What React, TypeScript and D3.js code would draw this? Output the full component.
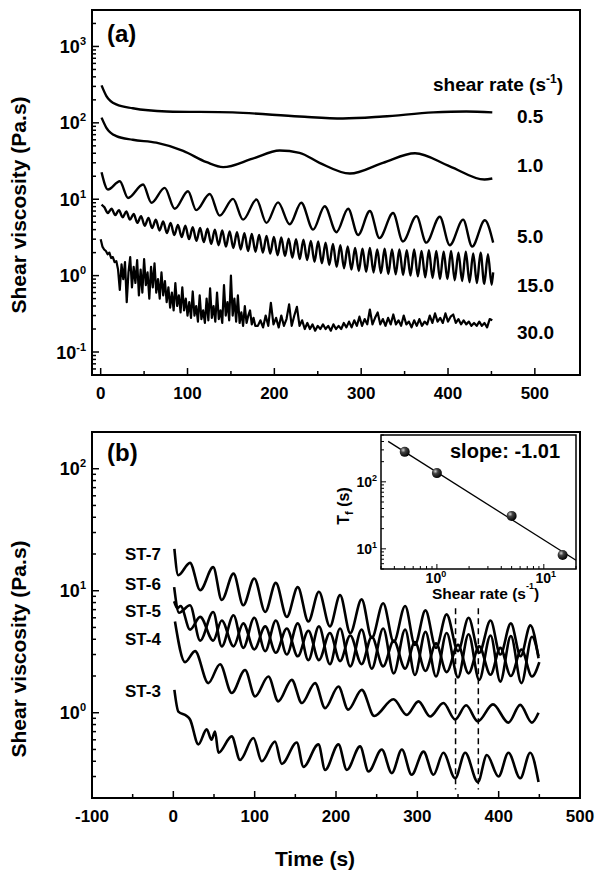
import React from "react";
import * as d3 from "d3";

type P = [number, number];

// ---------- Panel (a): viscosity vs time at several shear rates ----------
const rateLabels = ["0.5", "1.0", "5.0", "15.0", "30.0"];

const rate05: P[] = [[1,309],[6.6,224],[18,174],[37,155],[76,141],[152,137],[229,121],[279,114],[325,121],[383,137],[421,141],[451,137]];

const rate10: P[] = [[1,117],[6.6,86],[18,67],[37,60],[64,55],[95,43],[122,30.5],[141,26.3],[175,34],[206,43.4],[229,40.5],[252,30],[287,21.7],[325,30],[362,40],[402,27],[442,18.1],[451,18.7]];

const rate50: P[] = [[1,22.6],[8.4,13.4],[22,17.2],[31.5,10.4],[48.8,15.6],[58.4,9.0],[73.7,14.1],[85.3,7.5],[100.6,12.7],[110,7.2],[125.6,11.7],[137,6.1],[152.4,10.1],[164,5.4],[179.4,9.9],[190.9,4.9],[204.3,9.1],[217.7,4.7],[231,9.0],[244.6,4.0],[258,8.1],[271.5,3.7],[285,7.5],[296.4,3.4],[310,7.0],[321,3.1],[336.7,6.6],[348,2.8],[363.7,6.0],[375,2.7],[390.5,5.9],[402,2.5],[417.4,5.4],[427.8,2.4],[442.4,5.3],[452,2.7]];

const rate150: P[] = [[1,8.5],[4,7.9],[8.25,6.6],[12.5,7.5],[16.75,6.2],[21,7.2],[25.25,5.8],[29.5,6.9],[33.75,5.4],[38,6.4],[42.25,4.9],[46.5,6.0],[50.75,4.5],[55,5.7],[59.25,4.2],[63.5,5.4],[67.75,3.9],[72,5.1],[76.25,3.6],[80.5,4.9],[84.75,3.4],[89,4.6],[93.25,3.2],[97.5,4.5],[101.75,3.0],[106,4.3],[110.25,2.85],[114.5,4.2],[118.75,2.75],[123,4.1],[127.25,2.6],[131.5,4.0],[135.75,2.5],[140,3.9],[144.25,2.4],[148.5,3.8],[152.75,2.3],[157,3.7],[161.25,2.2],[165.5,3.6],[169.75,2.1],[174,3.5],[178.25,2.05],[182.5,3.4],[186.75,2.0],[191,3.3],[195.25,1.95],[199.5,3.2],[203.75,1.85],[208,3.15],[212.25,1.8],[216.5,3.05],[220.75,1.72],[225,3.0],[229.25,1.65],[233.5,2.95],[237.75,1.6],[242,2.85],[246.25,1.52],[250.5,2.8],[254.75,1.45],[259,2.7],[263.25,1.38],[267.5,2.6],[271.75,1.3],[276,2.5],[280.25,1.25],[284.5,2.4],[288.75,1.2],[293,2.3],[297.25,1.15],[301.5,2.25],[305.75,1.12],[310,2.3],[314.25,1.1],[318.5,2.2],[322.75,1.08],[327,2.25],[331.25,1.05],[335.5,2.2],[339.75,1.04],[344,2.2],[348.25,1.02],[352.5,2.15],[356.75,1.0],[361,2.2],[365.25,0.98],[369.5,2.1],[373.75,0.95],[378,2.15],[382.25,0.93],[386.5,2.1],[390.75,0.9],[395,2.05],[399.25,0.9],[403.5,2.1],[407.75,0.87],[412,2.0],[416.25,0.85],[420.5,2.05],[424.75,0.82],[429,1.95],[433.25,0.8],[437.5,2.0],[441.75,0.78],[446,1.9],[450.25,0.76],[452,1.1]];

const rate300: P[] = [[0,3.0],[2,2.4],[4,2.2],[6,2.1],[8,1.9],[10,2.0],[12,1.7],[14,1.75],[16,1.5],[18,1.55],[20,1.2],[22,0.65],[24,1.4],[26,0.9],[28,1.5],[30,0.45],[32,1.1],[34,1.75],[36,0.7],[38,1.3],[40,0.8],[42,1.6],[44,0.55],[46,1.2],[48,0.6],[50,1.65],[52,0.75],[54,1.1],[56,0.5],[58,1.3],[60,0.7],[62,1.45],[64,0.6],[66,0.9],[68,0.5],[70,1.1],[72,0.55],[74,0.85],[76,0.45],[78,0.7],[80,0.38],[82,0.6],[84,0.35],[86,0.8],[88,0.4],[90,0.55],[92,0.33],[94,0.7],[96,0.35],[98,0.5],[100,0.3],[102,0.45],[104,0.28],[106,0.62],[108,0.3],[110,0.4],[112,0.25],[114,0.55],[116,0.27],[118,0.35],[120,0.24],[122,0.5],[124,0.26],[126,0.68],[128,0.28],[130,0.4],[132,0.25],[134,0.6],[136,0.27],[138,0.35],[140,0.24],[142,0.75],[144,0.3],[146,0.45],[148,0.26],[150,1.0],[152,0.3],[154,0.5],[156,0.25],[158,0.55],[160,0.24],[162,0.33],[164,0.22],[166,0.4],[168,0.24],[170,0.3],[172,0.35],[174,0.23],[176,0.28],[178,0.22],[181,0.22],[184,0.26],[187,0.21],[190,0.3],[193,0.22],[196,0.44],[199,0.23],[202,0.28],[205,0.21],[208,0.3],[211,0.22],[214,0.27],[217,0.42],[220,0.22],[223,0.3],[226,0.39],[229,0.22],[232,0.26],[235,0.2],[238,0.24],[241,0.2],[244,0.23],[247,0.19],[250,0.22],[253,0.2],[256,0.23],[259,0.2],[262,0.22],[265,0.19],[268,0.23],[271,0.2],[274,0.22],[277,0.2],[280,0.24],[283,0.21],[286,0.25],[289,0.21],[292,0.26],[295,0.22],[298,0.29],[301,0.22],[304,0.27],[307,0.23],[310,0.36],[313,0.23],[316,0.28],[319,0.33],[322,0.23],[325,0.27],[328,0.22],[331,0.28],[334,0.23],[337,0.31],[340,0.23],[343,0.26],[346,0.22],[349,0.3],[352,0.23],[355,0.25],[358,0.21],[361,0.26],[364,0.22],[367,0.27],[370,0.22],[373,0.25],[376,0.23],[379,0.3],[382,0.24],[385,0.32],[388,0.25],[391,0.28],[394,0.24],[397,0.32],[400,0.25],[403,0.29],[406,0.31],[409,0.24],[412,0.27],[415,0.23],[418,0.26],[421,0.23],[424,0.25],[427,0.22],[430,0.24],[433,0.22],[436,0.25],[439,0.22],[442,0.24],[445,0.21],[448,0.27],[451,0.26]];

// ---------- Panel (b): samples ST-3 ... ST-7 ----------
const stLabels = ["ST-7", "ST-6", "ST-5", "ST-4", "ST-3"];

const st7: P[] = [[1.3,22],[6,13.4],[20.5,16.9],[33,10.1],[49,15.6],[59.5,8.4],[74,13.8],[86,7.6],[99.5,12.6],[113,6.7],[126,11.6],[139.5,6.1],[153,10.7],[166,5.6],[179,9.8],[192.5,5.1],[205,9.2],[217.5,4.5],[231.5,8.5],[244,4.1],[258,7.9],[271,3.8],[285,7.5],[297,3.6],[310,6.9],[323,3.4],[336,6.4],[350,3.2],[363,6.0],[376,3.1],[390,5.7],[402,3.0],[415,5.4],[427,2.9],[439,5.2],[449,2.8]];

const st6: P[] = [[1,10.7],[7,6.6],[20.5,7.6],[33,3.9],[49,6.7],[59.5,3.5],[74,6.3],[86,3.4],[99.5,6.0],[113,3.2],[126,5.7],[139.5,3.0],[153,5.4],[166,2.7],[179,5.1],[192.5,2.5],[205,4.9],[217.5,2.4],[231.5,4.8],[244,2.3],[258,4.9],[271,2.1],[285,4.8],[297,2.04],[310,4.6],[323,1.98],[336,4.5],[350,1.95],[363,4.4],[376,1.86],[390,4.3],[402,1.8],[415,4.25],[428,1.75],[441,4.2],[449,2.9]];

const st5: P[] = [[1,8.2],[5,7.2],[9,7.5],[20.5,4.8],[33,6.1],[49,3.9],[59.5,5.7],[74,3.5],[86,5.4],[99.5,3.3],[113,5.1],[126,3.1],[139.5,4.9],[153,2.9],[166,4.7],[179,2.7],[192.5,4.5],[205,2.65],[217.5,4.3],[231.5,2.5],[244,4.2],[258,2.4],[271,3.9],[285,2.3],[297,3.8],[310,2.2],[323,3.7],[336,2.15],[350,3.6],[363,2.1],[376,3.5],[390,2.05],[402,3.4],[415,2.0],[428,3.3],[441,1.98],[450,2.6]];

const st4: P[] = [[2,5.6],[14.4,2.6],[26.7,3.2],[43,1.75],[57.4,2.5],[71.8,1.45],[88.2,2.24],[100.5,1.36],[116.9,1.98],[129,1.24],[145.6,1.86],[158,1.2],[174.3,1.75],[186.6,1.09],[203,1.64],[215,1.06],[231.7,1.54],[247,0.94],[270.6,1.29],[287,0.96],[301.4,1.24],[315.7,0.93],[332,1.2],[346.5,0.88],[360,1.15],[374.4,0.85],[393,1.17],[412,0.83],[426.5,1.16],[440.8,0.83],[449,1.0]];

const st3: P[] = [[1.3,1.54],[6.2,1.02],[16.4,0.94],[20.5,0.88],[30.8,0.55],[41,0.73],[47,0.6],[51.3,0.7],[55.4,0.47],[71.8,0.64],[82,0.41],[98.4,0.62],[108.7,0.4],[125,0.58],[133.3,0.38],[151.8,0.57],[160,0.36],[178.4,0.55],[186.6,0.34],[203,0.55],[213.3,0.34],[229.6,0.53],[240,0.33],[256.3,0.5],[268.6,0.32],[281,0.5],[293,0.31],[307.6,0.48],[319.8,0.31],[332,0.47],[346.5,0.29],[358.8,0.47],[374.4,0.27],[385.5,0.45],[399.8,0.3],[412,0.47],[426.5,0.29],[438.8,0.47],[449,0.27]];

const dashTimes = [347, 375];
const dashSpan: P = [0.235, 7.2];

// ---------- Inset: T_f vs shear rate ----------
const insetRates = [0.5, 1, 5, 15];
const insetTf = [280, 135, 31, 8.1];
const fitSlope = -1.01;
const fitLogIntercept = 2.143;
const fitRange: P = [0.35, 20];

// ---------- tick labels ----------
const aXTicks = [0, 100, 200, 300, 400, 500];
const aYExps = [-1, 0, 1, 2, 3];
const bXTicks = [-100, 0, 100, 200, 300, 400, 500];
const bYExps = [0, 1, 2];
const iXExps = [0, 1];
const iYExps = [1, 2];

// layout
const FONT = "'Liberation Sans', Arial, Helvetica, sans-serif";
const rateLabelBaselines = [123, 172, 243, 292, 339];
const stLabelBaselines = [560, 590, 617, 645, 697];

function logTicks(lo: number, hi: number) {
  const out: { v: number; major: boolean }[] = [];
  for (let e = Math.floor(Math.log10(lo)) - 1; e <= Math.ceil(Math.log10(hi)); e++) {
    for (let m = 1; m <= 9; m++) {
      const v = m * Math.pow(10, e);
      if (v >= lo * 0.9999 && v <= hi * 1.0001) out.push({ v, major: m === 1 });
    }
  }
  return out;
}

export default function App() {
  const xA = d3.scaleLinear().domain([-10, 552]).range([92, 580]);
  const yA = d3.scaleLog().domain([0.05, 3000]).range([375, 10]);
  const xB = d3.scaleLinear().domain([-100, 500]).range([92, 580]);
  const yB = d3.scaleLog().domain([0.2, 200]).range([798, 432]);
  const xI = d3.scaleLog().domain([0.3, 20]).range([381, 576]);
  const yI = d3.scaleLog().domain([5, 500]).range([569, 435]);

  const lineA = d3.line<P>().x((d) => xA(d[0])).y((d) => yA(d[1])).curve(d3.curveMonotoneX);
  const lineALin = d3.line<P>().x((d) => xA(d[0])).y((d) => yA(d[1]));
  const lineB = d3.line<P>().x((d) => xB(d[0])).y((d) => yB(d[1])).curve(d3.curveMonotoneX);
  const lineI = d3.line<P>().x((d) => xI(d[0])).y((d) => yI(d[1]));

  const fitPts: P[] = fitRange.map((r) => [r, Math.pow(10, fitLogIntercept + fitSlope * Math.log10(r))] as P);

  const aXAll = d3.range(0, 501, 50);
  const bXAll = d3.range(-100, 501, 50);

  const sup = (e: number, size: number, dy: number) => (
    <tspan dy={-dy} fontSize={size}>{e}</tspan>
  );

  return (
    <svg width={600} height={878} style={{ position: "absolute", left: 0, top: 0 }} fontFamily={FONT}>
      <defs>
        <radialGradient id="ball" cx="35%" cy="32%" r="70%">
          <stop offset="0%" stopColor="#d0d0d0" />
          <stop offset="35%" stopColor="#444" />
          <stop offset="100%" stopColor="#000" />
        </radialGradient>
      </defs>
      <rect x={0} y={0} width={600} height={878} fill="#fff" />

      {/* ================= Panel (a) ================= */}
      <g>
        {logTicks(0.05, 3000).map((t, i) => (
          <line key={"ay" + i} x1={92} x2={92 + (t.major ? 7 : 4)} y1={yA(t.v)} y2={yA(t.v)} stroke="#000" strokeWidth={1.5} />
        ))}
        {aXAll.map((t) => (
          <line key={"ax" + t} x1={xA(t)} x2={xA(t)} y1={375} y2={375 - (t % 100 === 0 ? 7 : 4)} stroke="#000" strokeWidth={1.5} />
        ))}
        {aYExps.map((e) => (
          <text key={"ayl" + e} x={86} y={yA(Math.pow(10, e)) + 6.5} textAnchor="end" fontSize={18} fontWeight="bold">
            10{sup(e, 11, 8)}
          </text>
        ))}
        {aXTicks.map((t) => (
          <text key={"axl" + t} x={xA(t)} y={399} textAnchor="middle" fontSize={17} fontWeight="bold">{t}</text>
        ))}
        <path d={lineA(rate05) || ""} fill="none" stroke="#000" strokeWidth={2.4} />
        <path d={lineA(rate10) || ""} fill="none" stroke="#000" strokeWidth={2.4} />
        <path d={lineA(rate50) || ""} fill="none" stroke="#000" strokeWidth={2.4} />
        <path d={lineA(rate150) || ""} fill="none" stroke="#000" strokeWidth={2.4} strokeLinejoin="round" />
        <path d={lineALin(rate300) || ""} fill="none" stroke="#000" strokeWidth={2.2} strokeLinejoin="round" />
        <rect x={92} y={10} width={488} height={365} fill="none" stroke="#000" strokeWidth={2} />
        <text x={107} y={42} fontSize={24} fontWeight="bold">(a)</text>
        <text x={433} y={91} fontSize={19} fontWeight="bold">
          shear rate (s<tspan dy={-8} fontSize={12}>-1</tspan><tspan dy={8}>)</tspan>
        </text>
        {rateLabels.map((l, i) => (
          <text key={l} x={517} y={rateLabelBaselines[i]} fontSize={19} fontWeight="bold">{l}</text>
        ))}
        <text transform="translate(26,205) rotate(-90)" textAnchor="middle" fontSize={21} fontWeight="bold">Shear viscosity (Pa.s)</text>
      </g>

      {/* ================= Panel (b) ================= */}
      <g>
        {logTicks(0.2, 200).map((t, i) => (
          <line key={"by" + i} x1={92} x2={92 + (t.major ? 7 : 4)} y1={yB(t.v)} y2={yB(t.v)} stroke="#000" strokeWidth={1.5} />
        ))}
        {bXAll.map((t) => (
          <line key={"bx" + t} x1={xB(t)} x2={xB(t)} y1={798} y2={798 - (t % 100 === 0 ? 7 : 4)} stroke="#000" strokeWidth={1.5} />
        ))}
        {bYExps.map((e) => (
          <text key={"byl" + e} x={86} y={yB(Math.pow(10, e)) + 6.5} textAnchor="end" fontSize={18} fontWeight="bold">
            10{sup(e, 11, 8)}
          </text>
        ))}
        {bXTicks.map((t) => (
          <text key={"bxl" + t} x={xB(t)} y={822} textAnchor="middle" fontSize={17} fontWeight="bold">{t}</text>
        ))}
        {[st7, st6, st5, st4, st3].map((s, i) => (
          <path key={"st" + i} d={lineB(s) || ""} fill="none" stroke="#000" strokeWidth={2.6} strokeLinejoin="round" />
        ))}
        {dashTimes.map((t) => (
          <line key={"d" + t} x1={xB(t)} x2={xB(t)} y1={yB(dashSpan[1])} y2={yB(dashSpan[0])} stroke="#000" strokeWidth={1.5} strokeDasharray="6,4" />
        ))}
        {stLabels.map((l, i) => (
          <text key={l} x={125} y={stLabelBaselines[i]} fontSize={17} fontWeight="bold">{l}</text>
        ))}
        <rect x={92} y={432} width={488} height={366} fill="none" stroke="#000" strokeWidth={2} />
        <text x={107} y={461} fontSize={24} fontWeight="bold">(b)</text>
        <text transform="translate(26,649) rotate(-90)" textAnchor="middle" fontSize={21} fontWeight="bold">Shear viscosity (Pa.s)</text>
        <text x={315} y={866} textAnchor="middle" fontSize={21} fontWeight="bold">Time (s)</text>
      </g>

      {/* ================= Inset ================= */}
      <g>
        <rect x={381} y={435} width={195} height={134} fill="#fff" />
        {logTicks(5, 500).map((t, i) => (
          <line key={"iy" + i} x1={381} x2={381 + (t.major ? 5 : 3)} y1={yI(t.v)} y2={yI(t.v)} stroke="#000" strokeWidth={1} />
        ))}
        {logTicks(0.3, 20).map((t, i) => (
          <line key={"ix" + i} x1={xI(t.v)} x2={xI(t.v)} y1={569} y2={569 - (t.major ? 5 : 3)} stroke="#000" strokeWidth={1} />
        ))}
        {iYExps.map((e) => (
          <text key={"iyl" + e} x={377} y={yI(Math.pow(10, e)) + 5} textAnchor="end" fontSize={14} fontWeight="bold">
            10{sup(e, 9, 6)}
          </text>
        ))}
        {iXExps.map((e) => (
          <text key={"ixl" + e} x={xI(Math.pow(10, e)) + (e === 1 ? 2 : -1)} y={583} textAnchor="middle" fontSize={14} fontWeight="bold">
            10{sup(e, 9, 6)}
          </text>
        ))}
        <path d={lineI(fitPts) || ""} fill="none" stroke="#000" strokeWidth={1.3} />
        {insetRates.map((r, i) => (
          <circle key={"pt" + i} cx={xI(r)} cy={yI(insetTf[i])} r={5} fill="url(#ball)" />
        ))}
        <rect x={381} y={435} width={195} height={134} fill="none" stroke="#000" strokeWidth={1.5} />
        <text x={450} y={458} fontSize={20} fontWeight="bold">slope: -1.01</text>
        <text x={432} y={599} fontSize={15.5} fontWeight="bold">
          Shear rate (s<tspan dy={-10} fontSize={9}>-1</tspan><tspan dy={10}>)</tspan>
        </text>
        <text transform="translate(349,506) rotate(-90)" textAnchor="middle" fontSize={16} fontWeight="bold">
          T<tspan dy={4} fontSize={11}>f</tspan><tspan dy={-4}> (s)</tspan>
        </text>
      </g>
    </svg>
  );
}
